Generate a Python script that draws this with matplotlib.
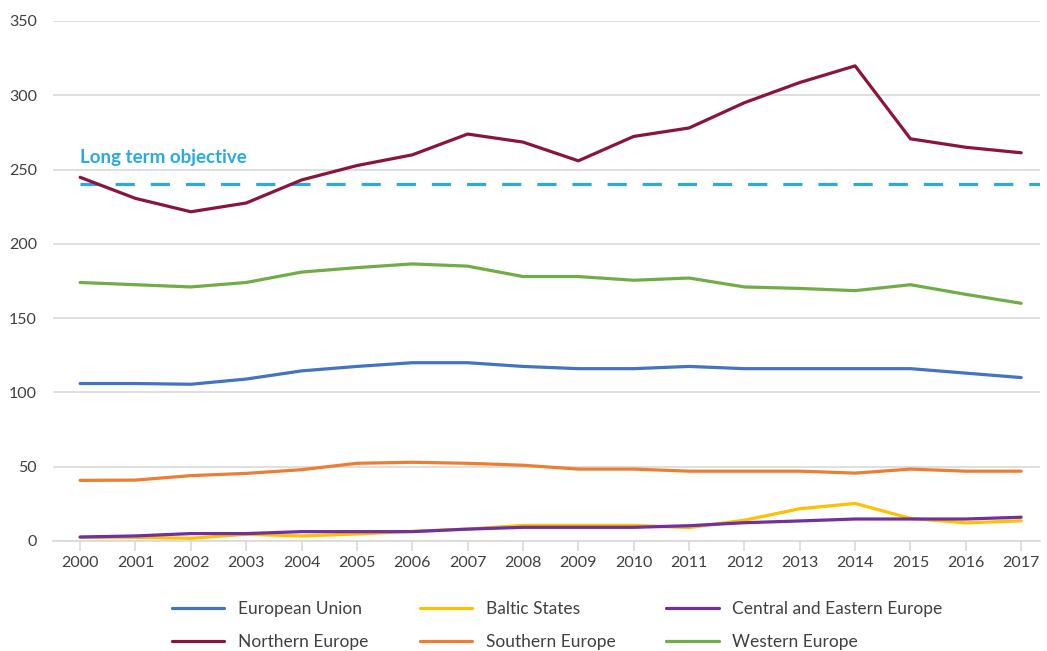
import matplotlib
matplotlib.use("Agg")
import matplotlib.pyplot as plt

years = list(range(2000, 2018))
european_union = [106, 106, 105.5, 109, 114.5, 117.5, 120, 120, 117.5, 116, 116, 117.5, 116, 116, 116, 116, 113, 110]
baltic_states = [2.5, 2.5, 1.8, 4.5, 3.4, 4.7, 6.5, 8, 10.5, 10.5, 10.5, 9, 14, 21.7, 25.3, 15.2, 12.2, 13.6]
central_eastern = [2.7, 3.4, 5, 5, 6.3, 6.3, 6.3, 8, 9.2, 9.2, 9.2, 10.3, 12.3, 13.5, 14.8, 14.8, 14.8, 16]
northern_europe = [244.8, 230.6, 221.6, 227.5, 243, 252.7, 259.9, 273.9, 268.5, 255.9, 272.3, 278, 295, 308.6, 319.8, 270.7, 265, 261.3]
southern_europe = [40.8, 41, 44, 45.5, 48, 52.3, 53, 52.3, 51, 48.4, 48.4, 47, 47, 47, 45.7, 48.4, 47, 47]
western_europe = [174, 172.5, 171, 174, 181, 184, 186.5, 185, 178, 178, 175.5, 177, 171, 170, 168.5, 172.5, 166, 160]
objective = 240
objective_label = "Long term objective"
yticks = [0, 50, 100, 150, 200, 250, 300, 350]

series = [
    ("European Union", european_union, "#4472C4"),
    ("Baltic States", baltic_states, "#FFC000"),
    ("Central and Eastern Europe", central_eastern, "#7030A0"),
    ("Northern Europe", northern_europe, "#8B1538"),
    ("Southern Europe", southern_europe, "#ED7D31"),
    ("Western Europe", western_europe, "#70AD47"),
]

plt.rcParams['font.family'] = ['Lato', 'DejaVu Sans']

fig = plt.figure(figsize=(10.47, 6.51), dpi=100)
ax = fig.add_axes([53/1047, 1-541/651, (1040-53)/1047, (541-21)/651])

xlo, xhi = 1999.51, 2017.34
ax.set_xlim(xlo, xhi)
ax.set_ylim(0, 350)

ax.hlines(objective, years[0], xhi, colors="#29ABE2", linewidth=2.3,
          linestyles=(0, (6, 5)), zorder=2)
ax.text(years[0], 258, objective_label, color="#29ABE2", fontsize=13.5,
        fontweight="bold", ha="left", va="center")

order = [3, 5, 0, 4, 1, 2]
handles = {}
for i in order:
    name, vals, col = series[i]
    ln, = ax.plot(years, vals, color=col, linewidth=2.3, label=name, zorder=3,
                  solid_capstyle="round", solid_joinstyle="round")
    handles[i] = ln

ax.set_yticks(yticks)
ax.set_xticks(years)
ax.set_xticklabels([str(y) for y in years])
ax.grid(axis="y", color="#D9D9D9", linewidth=1.2)
ax.set_axisbelow(True)
for s in ["top", "right", "left"]:
    ax.spines[s].set_visible(False)
ax.spines["bottom"].set_color("#D9D9D9")
ax.spines["bottom"].set_linewidth(1.2)
ax.tick_params(axis="y", length=0, labelsize=11.5, labelcolor="#404040", pad=11.5)
ax.tick_params(axis="x", length=7, color="#D9D9D9", width=1.2, labelsize=11.5,
               labelcolor="#404040", pad=4)

# legend filled column-major: arrange so rows read EU/Baltic/CEE, Northern/Southern/Western
leg_idx = [0, 3, 1, 4, 2, 5]
fig.legend([handles[i] for i in leg_idx], [series[i][0] for i in leg_idx],
           loc="center left", bbox_to_anchor=(172/1047, 1-625.5/651), ncol=3,
           frameon=False, fontsize=12.5, handlelength=3.0, handletextpad=0.8,
           columnspacing=2.95, labelspacing=0.98, labelcolor="#404040",
           borderaxespad=0, borderpad=0)

fig.savefig("out.png", dpi=100)
